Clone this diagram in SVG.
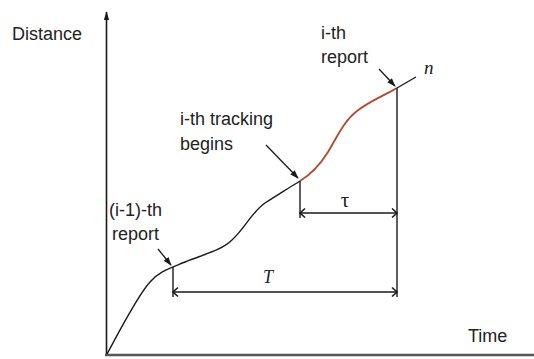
<svg xmlns="http://www.w3.org/2000/svg" width="534" height="359" viewBox="0 0 534 359">
<style>
.lbl{font-family:"Liberation Sans",Arial,sans-serif;font-size:18px;fill:#222}
.sym{font-family:"Liberation Serif","Times New Roman",serif;font-style:italic;fill:#222}
.ln{fill:none;stroke:#1a1a1a;stroke-width:1.4}
.dim{fill:none;stroke:#1a1a1a;stroke-width:1.4;marker-start:url(#open);marker-end:url(#open)}
.ptr{fill:none;stroke:#1a1a1a;stroke-width:1.3;marker-end:url(#solid)}
</style>
<defs>
<marker id="open" viewBox="-8 -6 9 12" markerWidth="9" markerHeight="12" refX="0" refY="0" orient="auto-start-reverse" markerUnits="userSpaceOnUse">
<path d="M-5,-4.5 L0,0 L-5,4.5" fill="none" stroke="#1a1a1a" stroke-width="1.6"/>
</marker>
<marker id="solid" viewBox="0 -4 10 8" markerWidth="9" markerHeight="7" refX="9" refY="0" orient="auto" markerUnits="userSpaceOnUse">
<path d="M0,-3.5 L10,0 L0,3.5 Z" fill="#1a1a1a"/>
</marker>
<marker id="axis" viewBox="0 -4 10 8" markerWidth="10" markerHeight="7" refX="9" refY="0" orient="auto" markerUnits="userSpaceOnUse">
<path d="M0,-3 L10,0 L0,3 Z" fill="#1a1a1a"/>
</marker>
</defs>
<g id="axes">
<line x1="106.5" y1="355" x2="106.5" y2="12" stroke="#1a1a1a" stroke-width="1.6" marker-end="url(#axis)"/>
<line x1="105" y1="355" x2="534" y2="355" stroke="#555" stroke-width="2.6"/>
<text class="lbl" x="12" y="40">Distance</text>
<text class="lbl" x="468" y="342">Time</text>
</g>
<g id="curve">
<path class="ln" d="M107,354 C120,330 138,295 150,282 C158,272 168,269 185,262 C205,254 222,250 232,240 C245,228 252,212 265,203 C278,195 290,187 300,181"/>
<path fill="none" stroke="#b3472a" stroke-width="1.8" d="M300,181 C310,175 318,168 328,152 C338,135 345,120 357,111 C368,102 385,95 397,88"/>
<path class="ln" d="M397,88 L416,77"/>
<text class="sym" x="424" y="74" font-size="19">n</text>
</g>
<g id="connectors">
<line class="ln" x1="173" y1="267" x2="173" y2="297"/>
<line class="ln" x1="300" y1="181" x2="300" y2="218"/>
<line class="ln" x1="397" y1="88" x2="397" y2="297"/>
<line class="dim" x1="173" y1="292" x2="397" y2="292"/>
<line class="dim" x1="300" y1="213" x2="397" y2="213"/>
<line class="ptr" x1="158" y1="249" x2="171" y2="265"/>
<line class="ptr" x1="266" y1="145" x2="298" y2="178"/>
<line class="ptr" x1="379" y1="69" x2="395" y2="86"/>
</g>
<g id="T-label"><text class="sym" x="268" y="283" font-size="18" text-anchor="middle">T</text></g>
<g id="tau-label"><text x="345" y="207" font-family="'Liberation Serif','Times New Roman',serif" font-size="21" fill="#222" text-anchor="middle">τ</text></g>
<g id="prev-report"><text class="lbl" x="109" y="216">(i-1)-th</text><text class="lbl" x="112" y="240">report</text></g>
<g id="tracking-begins"><text class="lbl" x="180" y="125">i-th tracking</text><text class="lbl" x="180" y="150">begins</text></g>
<g id="ith-report"><text class="lbl" x="321" y="39">i-th</text><text class="lbl" x="321" y="63">report</text></g>
</svg>
